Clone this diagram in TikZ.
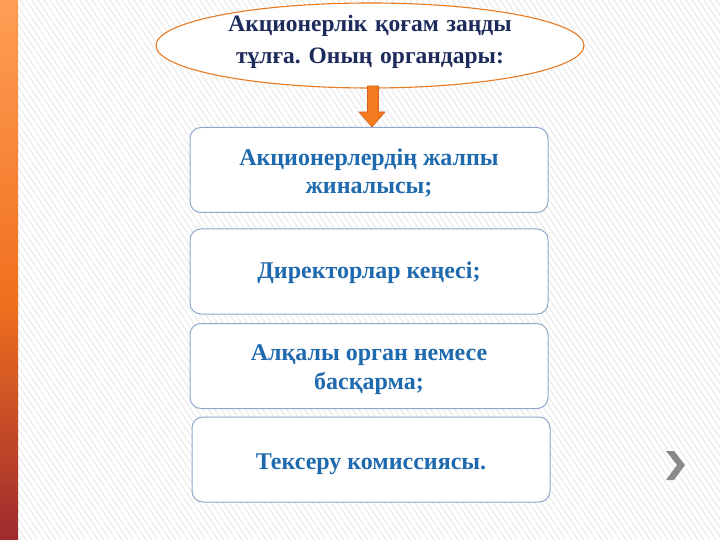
\documentclass[tikz,border=0pt]{standalone}
\usepackage{fontspec}
\setmainfont{Liberation Serif}
\usetikzlibrary{shapes.geometric}
\frenchspacing
\definecolor{navy}{HTML}{1C2A5C}
\definecolor{boxtext}{HTML}{1F6AAE}
\definecolor{boxline}{HTML}{8FA8CC}
\definecolor{ellline}{HTML}{E87A22}
\definecolor{arrowfill}{HTML}{F47B20}
\definecolor{arrowline}{HTML}{D2601A}
\definecolor{hatch}{HTML}{EBEBEB}
\definecolor{stripetop}{HTML}{FF9E55}
\definecolor{stripemid}{HTML}{F0701E}
\definecolor{stripebot}{HTML}{9E2A2E}
\definecolor{chev}{HTML}{8A8A8A}
\newcommand{\lowerby}[2]{\raisebox{-#1}[\height][\depth]{#2}}
\newcommand{\twolines}[2]{\parbox{345pt}{\centering\fontsize{24}{28.5}\selectfont #1\\#2}}
\tikzset{
  organbox/.style={draw=boxline, line width=1pt, fill=white, rounded corners=11pt,
    minimum width=358pt, minimum height=85pt, align=center,
    font=\bfseries\fontsize{24}{28.5}\selectfont, text=boxtext},
  titletext/.style={inner sep=0pt, text width=340pt, align=center,
    font=\bfseries\fontsize{23.5}{32}\selectfont, text=navy},
  ellborder/.style={draw=ellline, line width=1.1pt, fill=white}
}
\begin{document}
\begin{tikzpicture}[x=1pt,y=-1pt]
\useasboundingbox (0,0) rectangle (720,540);
\fill[white] (0,0) rectangle (720,540);
\begin{scope}
\clip (18,0) rectangle (720,540);
\foreach \i in {-400,-394,...,720}{
  \draw[hatch, line width=1.1pt] (\i,0) -- ++(360,540);
}
\end{scope}
\shade[top color=stripetop, bottom color=stripemid] (0,0) rectangle (18,300);
\shade[top color=stripemid, bottom color=stripebot] (0,300) rectangle (18,540);
% title
\coordinate (ellc) at (370,45.5);
\draw[ellborder] (ellc) ellipse [x radius=214pt, y radius=42.5pt];
\node[titletext] (title) at (370,41.5) {Акционерлік қоғам заңды\\тұлға. Оның органдары:};
% arrow
\filldraw[fill=arrowfill, draw=arrowline, line width=0.6pt]
  (367.5,86) -- (378.5,86) -- (378.5,112) -- (385,112) -- (372,127) -- (359,112) -- (367.5,112) -- cycle;
\coordinate (arrowtip) at (372,127);
% boxes
\node[organbox] (b1) at (369,170) {\lowerby{3pt}{\twolines{Акционерлердің жалпы}{жиналысы;}}};
\node[organbox] (b2) at (369,271.5) {\lowerby{1.5pt}{Директорлар кеңесі;}};
\node[organbox] (b3) at (369,366) {\lowerby{3.5pt}{\twolines{Алқалы орган немесе}{басқарма;}}};
\node[organbox] (b4) at (371,459.5) {\lowerby{5pt}{Тексеру комиссиясы.}};
% chevron
\fill[chev] (666,451) -- (674,451) -- (685,465) -- (674,480) -- (666,480) -- (677,465) -- cycle;
\end{tikzpicture}
\end{document}
